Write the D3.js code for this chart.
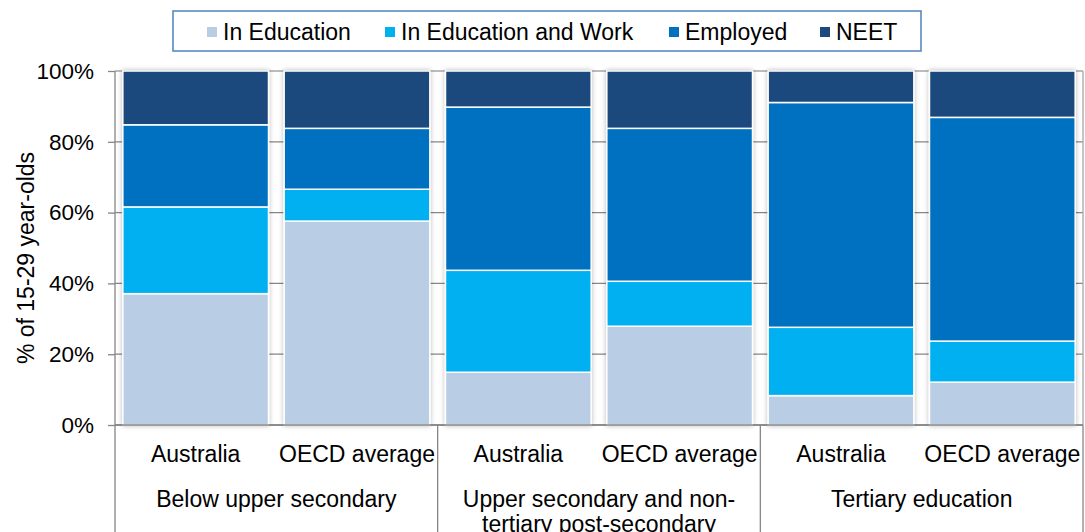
<!DOCTYPE html>
<html>
<head>
<meta charset="utf-8">
<script src="https://cdn.jsdelivr.net/npm/d3@7"></script>
<style>
  body { margin: 0; background: #fff; }
  text { font-family: "Liberation Sans", Arial, sans-serif; fill: #000; }
</style>
</head>
<body>
<div id="chart"></div>
<script>
// Stacked bars, share of 15-29 year-olds by education status

var categories = ['Australia', 'OECD average', 'Australia', 'OECD average', 'Australia', 'OECD average'];
var groups = [['Below upper secondary'], ['Upper secondary and non-', 'tertiary post-secondary'], ['Tertiary education']];
var seriesNames = ['In Education', 'In Education and Work', 'Employed', 'NEET'];
var seriesColors = ['#B9CDE5', '#00B0F0', '#0070C0', '#1F497D'];

var inEducation = [37.1, 57.6, 14.9, 27.9, 8.3, 12.1];
var inEducationWork = [24.5, 9.0, 28.8, 12.7, 19.3, 11.6];
var employed = [23.2, 17.2, 46.1, 43.2, 63.5, 63.2];
var neet = [15.2, 16.2, 10.2, 16.2, 8.9, 13.1];

var yTicks = [0, 20, 40, 60, 80, 100];

var width = 1085, height = 532;
var margin = { top: 71, bottom: 107, left: 115, right: 2 };
var fontSize = '23px';

var svg = d3.select('#chart')
    .append('svg')
    .attr('width', width)
    .attr('height', height);

// soft shadow round the bars
var defs = svg.append('defs');
defs.append('filter')
    .attr('id', 'shadow')
    .attr('x', '-10%').attr('y', '-10%')
    .attr('width', '120%').attr('height', '120%')
    .append('feDropShadow')
    .attr('dx', 0).attr('dy', 0)
    .attr('stdDeviation', 2.5)
    .attr('flood-color', '#000')
    .attr('flood-opacity', 0.28);

var rows = categories.map(function(c, i) {
    return { i: i, 'In Education': inEducation[i], 'In Education and Work': inEducationWork[i], 'Employed': employed[i], 'NEET': neet[i] };
});

var stacked = d3.stack().keys(seriesNames)(rows);

var x_scale = d3.scaleBand()
    .domain(d3.range(categories.length))
    .range([margin.left, width - margin.right])
    .paddingInner(0.097)
    .paddingOuter(0.0485);

var y_scale = d3.scaleLinear()
    .domain([0, 100])
    .range([height - margin.bottom, margin.top]);

var color_scale = d3.scaleOrdinal()
    .domain(seriesNames)
    .range(seriesColors);

var x0 = margin.left, x1 = width - margin.right;

// gridlines
svg.append('g')
    .attr('class', 'grid')
    .selectAll('line')
    .data(yTicks)
    .enter()
    .append('line')
    .attr('x1', x0).attr('x2', x1)
    .attr('y1', function(d) { return y_scale(d); })
    .attr('y2', function(d) { return y_scale(d); })
    .attr('stroke', function(d) { return d == 100 ? '#a6a6a6' : '#868686'; })
    .attr('stroke-width', 1.3);

// right frame
svg.append('line')
    .attr('x1', x1).attr('x2', x1)
    .attr('y1', y_scale(100)).attr('y2', y_scale(0))
    .attr('stroke', '#a6a6a6')
    .attr('stroke-width', 1.3);

// bars
var layers = svg.append('g')
    .attr('filter', 'url(#shadow)')
    .selectAll('g')
    .data(stacked)
    .enter()
    .append('g')
    .attr('fill', function(d) { return color_scale(d.key); });

layers.selectAll('rect')
    .data(function(d) { return d; })
    .enter()
    .append('rect')
    .attr('x', function(d) { return x_scale(d.data.i); })
    .attr('width', x_scale.bandwidth())
    .attr('y', function(d) { return y_scale(d[1]); })
    .attr('height', function(d) { return y_scale(d[0]) - y_scale(d[1]); })
    .attr('stroke', '#fff')
    .attr('stroke-width', 1.5);

// y axis
var y_axis = d3.axisLeft(y_scale)
    .tickValues(yTicks)
    .tickSize(7)
    .tickPadding(14)
    .tickFormat(function(d) { return d + '%'; });

var yAxisG = svg.append('g')
    .attr('transform', 'translate(' + x0 + ',0)')
    .call(y_axis);
yAxisG.select('.domain').remove();
yAxisG.selectAll('.tick line').attr('stroke', '#868686').attr('stroke-width', 1.3);
yAxisG.selectAll('.tick text')
    .style('font-family', '"Liberation Sans", Arial, sans-serif')
    .style('font-size', '22.5px')
    .attr('fill', '#000');

// axis lines and group separators
var step = x_scale.step();
var sepX = [0, 2, 4, 6].map(function(k) { return x0 + k * step; });

svg.append('line')
    .attr('x1', x0).attr('x2', x1)
    .attr('y1', y_scale(0)).attr('y2', y_scale(0))
    .attr('stroke', '#868686').attr('stroke-width', 1.3);

svg.append('line')
    .attr('x1', x0).attr('x2', x0)
    .attr('y1', y_scale(100)).attr('y2', height)
    .attr('stroke', '#868686').attr('stroke-width', 1.3);

svg.selectAll('.sep')
    .data(sepX.slice(1))
    .enter()
    .append('line')
    .attr('class', 'sep')
    .attr('x1', function(d) { return d; })
    .attr('x2', function(d) { return d; })
    .attr('y1', y_scale(0)).attr('y2', height)
    .attr('stroke', '#868686').attr('stroke-width', 1.3);

// category labels
svg.selectAll('.cat')
    .data(categories)
    .enter()
    .append('text')
    .attr('class', 'cat')
    .attr('x', function(d, i) { return x_scale(i) + x_scale.bandwidth() / 2; })
    .attr('y', 462)
    .attr('text-anchor', 'middle')
    .style('font-size', fontSize)
    .text(function(d) { return d; });

// group labels
var groupText = svg.selectAll('.grp')
    .data(groups)
    .enter()
    .append('text')
    .attr('class', 'grp')
    .attr('text-anchor', 'middle')
    .style('font-size', fontSize);

groupText.selectAll('tspan')
    .data(function(d, gi) { return d.map(function(t) { return { t: t, gi: gi }; }); })
    .enter()
    .append('tspan')
    .attr('x', function(d) { return x0 + (d.gi * 2 + 1) * step; })
    .attr('y', function(d, k) { return 507 + k * 25; })
    .text(function(d) { return d.t; });

// y axis title
svg.append('text')
    .attr('transform', 'translate(34,258) rotate(-90)')
    .attr('text-anchor', 'middle')
    .style('font-size', fontSize)
    .text('% of 15-29 year-olds');

// legend
var legend = svg.append('g').attr('class', 'legend');
legend.append('rect')
    .attr('x', 173).attr('y', 11)
    .attr('width', 748).attr('height', 40)
    .attr('fill', '#fff')
    .attr('stroke', '#4F81BD')
    .attr('stroke-width', 1.5);

var legendX = [207, 385, 669, 820];
var items = legend.selectAll('.item')
    .data(seriesNames)
    .enter()
    .append('g')
    .attr('class', 'item')
    .attr('transform', function(d, i) { return 'translate(' + legendX[i] + ',0)'; });

items.append('rect')
    .attr('x', 0).attr('y', 27)
    .attr('width', 10).attr('height', 10)
    .attr('fill', function(d) { return color_scale(d); });

items.append('text')
    .attr('x', 16)
    .attr('y', 39.5)
    .style('font-size', fontSize)
    .text(function(d) { return d; });
</script>
</body>
</html>
